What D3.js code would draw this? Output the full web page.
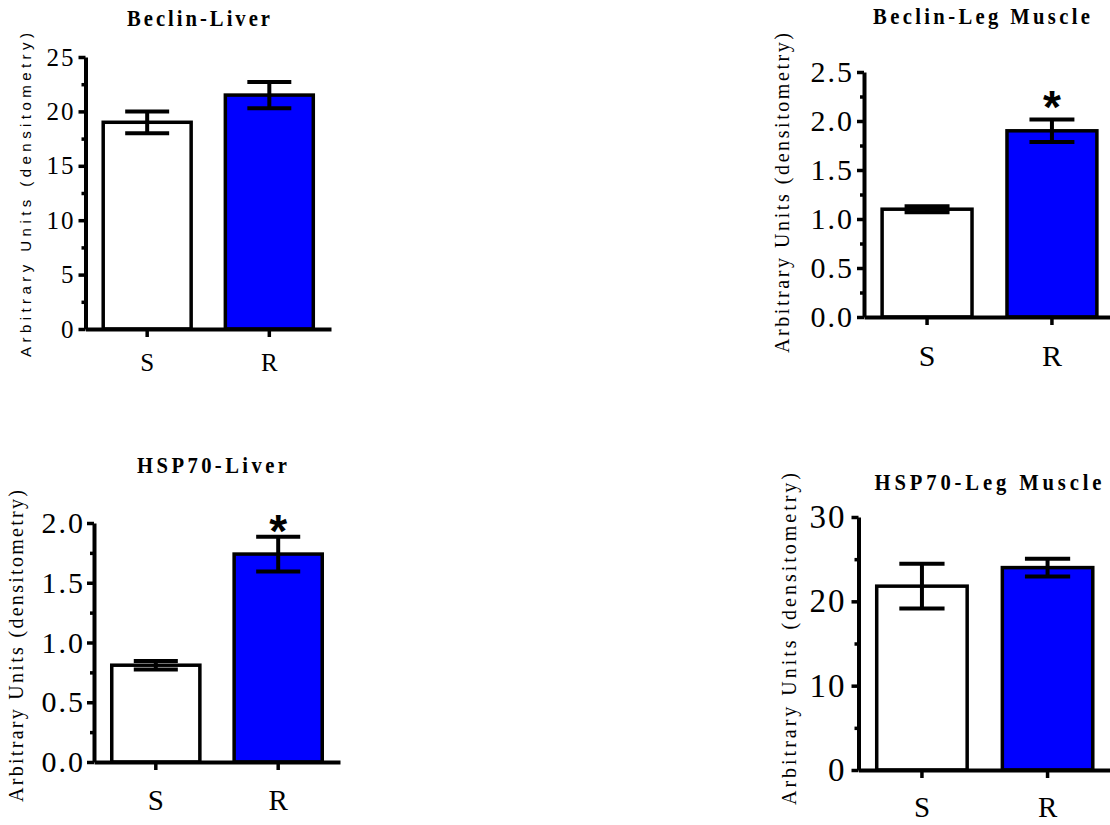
<!DOCTYPE html>
<html>
<head>
<meta charset="utf-8">
<script src="https://cdn.jsdelivr.net/npm/d3@7"></script>
<style>
  body { margin: 0; background: #fff; }
  svg { display: block; }
</style>
</head>
<body>
<div id="chart"></div>
<script>
// groups shared by all four panels
const groups = ["S", "R"];
const barColors = ["#ffffff", "#0000ff"];

// Beclin - liver
const beclinLiverMean = [19.0, 21.5];
const beclinLiverSem = [1.0, 1.2];
const beclinLiverTicks = [0, 5, 10, 15, 20, 25];
const beclinLiverStar = [false, false];

// Beclin - leg muscle
const beclinMuscleMean = [1.10, 1.90];
const beclinMuscleSem = [0.03, 0.115];
const beclinMuscleTicks = [0.0, 0.5, 1.0, 1.5, 2.0, 2.5];
const beclinMuscleStar = [false, true];

// HSP70 - liver
const hspLiverMean = [0.81, 1.74];
const hspLiverSem = [0.035, 0.145];
const hspLiverTicks = [0.0, 0.5, 1.0, 1.5, 2.0];
const hspLiverStar = [false, true];

// HSP70 - leg muscle
const hspMuscleMean = [21.8, 24.0];
const hspMuscleSem = [2.65, 1.05];
const hspMuscleTicks = [0, 10, 20, 30];
const hspMuscleStar = [false, false];

const yLabel = "Arbitrary Units (densitometry)";
const serif = "'Liberation Serif', 'Times New Roman', serif";
const sans = "'Liberation Sans', Arial, sans-serif";

// layout of each panel (pixel positions only, values come from the arrays above)
const panels = [
  {
    title: "Beclin-Liver", mean: beclinLiverMean, sem: beclinLiverSem,
    ticks: beclinLiverTicks, star: beclinLiverStar, fmt: d3.format("d"),
    xRange: [85.5, 331], yRange: [329, 57],
    titlePos: { x: 198.5, y: 18, len: 143 },
    labelPos: { x: 25, y: 195, len: 324, size: 15, font: sans },
    tickFont: 25, tickPad: 3, tickSpacing: 2,
    catFont: 25, catOffset: 33, starGap: 20
  },
  {
    title: "Beclin-Leg Muscle", mean: beclinMuscleMean, sem: beclinMuscleSem,
    ticks: beclinMuscleTicks, star: beclinMuscleStar, fmt: d3.format(".1f"),
    xRange: [864, 1115], yRange: [317, 72],
    titlePos: { x: 981.5, y: 16, len: 217 },
    labelPos: { x: 782, y: 193, len: 320, size: 20, font: serif },
    tickFont: 30, tickPad: 3, tickSpacing: 2,
    catFont: 30, catOffset: 38, starGap: 23
  },
  {
    title: "HSP70-Liver", mean: hspLiverMean, sem: hspLiverSem,
    ticks: hspLiverTicks, star: hspLiverStar, fmt: d3.format(".1f"),
    xRange: [94, 340], yRange: [762, 523],
    titlePos: { x: 212, y: 465, len: 150 },
    labelPos: { x: 16, y: 646, len: 312, size: 20, font: serif },
    tickFont: 30, tickPad: 2, tickSpacing: 2,
    catFont: 29, catOffset: 38, starGap: 16
  },
  {
    title: "HSP70-Leg Muscle", mean: hspMuscleMean, sem: hspMuscleSem,
    ticks: hspMuscleTicks, star: hspMuscleStar, fmt: d3.format("d"),
    xRange: [858.5, 1111], yRange: [770, 517],
    titlePos: { x: 988, y: 482, len: 227 },
    labelPos: { x: 789, y: 639, len: 332, size: 20, font: serif },
    tickFont: 33, tickPad: 5, tickSpacing: 2,
    catFont: 29, catOffset: 37, starGap: 20
  }
];

const starSize = 46;
const titleSize = 24;
const titleSqueeze = 0.86; // titles are drawn a bit narrow in the original

const svg = d3.select("#chart")
  .append("svg")
  .attr("width", 1110)
  .attr("height", 825);

panels.forEach(p => {
  const g = svg.append("g");

  const x = d3.scaleBand()
    .domain(groups)
    .range(p.xRange)
    .paddingInner(0.28)
    .paddingOuter(0.145);

  const y = d3.scaleLinear()
    .domain([0, p.ticks[p.ticks.length - 1]])
    .range(p.yRange);

  const axisX = p.xRange[0];
  const rows = groups.map((name, i) => ({
    name, mean: p.mean[i], sem: p.sem[i], star: p.star[i], color: barColors[i]
  }));

  // bars
  g.selectAll("rect.bar")
    .data(rows)
    .enter()
    .append("rect")
    .attr("class", "bar")
    .attr("x", d => x(d.name))
    .attr("y", d => y(d.mean))
    .attr("width", x.bandwidth())
    .attr("height", d => y(0) - y(d.mean))
    .attr("fill", d => d.color)
    .attr("stroke", "#000")
    .attr("stroke-width", 3.5);

  // error bars (SEM)
  const capHalf = x.bandwidth() / 4;
  const err = g.selectAll("g.err")
    .data(rows)
    .enter()
    .append("g")
    .attr("class", "err")
    .attr("stroke", "#000")
    .attr("stroke-width", 4);

  err.append("line")
    .attr("x1", d => x(d.name) + x.bandwidth() / 2)
    .attr("x2", d => x(d.name) + x.bandwidth() / 2)
    .attr("y1", d => y(d.mean + d.sem))
    .attr("y2", d => y(d.mean - d.sem));

  [1, -1].forEach(sign => {
    err.append("line")
      .attr("x1", d => x(d.name) + x.bandwidth() / 2 - capHalf)
      .attr("x2", d => x(d.name) + x.bandwidth() / 2 + capHalf)
      .attr("y1", d => y(d.mean + sign * d.sem))
      .attr("y2", d => y(d.mean + sign * d.sem));
  });

  // significance stars
  g.selectAll("text.star")
    .data(rows.filter(d => d.star))
    .enter()
    .append("text")
    .attr("class", "star")
    .attr("x", d => x(d.name) + x.bandwidth() / 2)
    .attr("y", d => y(d.mean + d.sem) - p.starGap + starSize * 0.58)
    .attr("text-anchor", "middle")
    .attr("font-family", sans)
    .attr("font-weight", "bold")
    .attr("font-size", starSize)
    .text("*");

  // y axis, major ticks
  const yAxis = g.append("g")
    .attr("transform", `translate(${axisX},0)`)
    .call(d3.axisLeft(y)
      .tickValues(p.ticks)
      .tickFormat(p.fmt)
      .tickSize(7)
      .tickSizeOuter(0)
      .tickPadding(p.tickPad));

  yAxis.select(".domain").attr("stroke-width", 4);
  yAxis.selectAll(".tick line").attr("stroke-width", 3.5);
  yAxis.selectAll(".tick text")
    .attr("font-family", serif)
    .attr("font-size", p.tickFont)
    .attr("letter-spacing", p.tickSpacing)
    .attr("fill", "#000");

  // y axis, minor ticks half way between majors
  const minor = d3.pairs(p.ticks).map(([a, b]) => (a + b) / 2);
  g.append("g")
    .attr("transform", `translate(${axisX},0)`)
    .call(d3.axisLeft(y).tickValues(minor).tickFormat("").tickSize(4).tickSizeOuter(0))
    .call(a => a.select(".domain").remove())
    .selectAll(".tick line").attr("stroke-width", 3.5);

  // x axis
  const xAxis = g.append("g")
    .attr("transform", `translate(0,${y(0)})`)
    .call(d3.axisBottom(x).tickSize(8).tickSizeOuter(0));

  xAxis.select(".domain").attr("stroke-width", 4);
  xAxis.selectAll(".tick line").attr("stroke-width", 3.5);
  xAxis.selectAll(".tick text")
    .attr("y", p.catOffset)
    .attr("dy", "0.35em")
    .attr("font-family", serif)
    .attr("font-size", p.catFont)
    .attr("fill", "#000");

  // panel title, squeezed horizontally
  g.append("text")
    .attr("transform", `translate(${p.titlePos.x},${p.titlePos.y}) scale(${titleSqueeze},1)`)
    .attr("text-anchor", "middle")
    .attr("dominant-baseline", "central")
    .attr("font-family", serif)
    .attr("font-weight", "bold")
    .attr("font-size", titleSize)
    .attr("textLength", p.titlePos.len / titleSqueeze)
    .attr("lengthAdjust", "spacing")
    .text(p.title);

  // y axis title
  g.append("text")
    .attr("transform", `translate(${p.labelPos.x},${p.labelPos.y}) rotate(-90)`)
    .attr("text-anchor", "middle")
    .attr("dominant-baseline", "central")
    .attr("font-family", p.labelPos.font)
    .attr("font-size", p.labelPos.size)
    .attr("textLength", p.labelPos.len)
    .attr("lengthAdjust", "spacing")
    .text(yLabel);
});
</script>
</body>
</html>
